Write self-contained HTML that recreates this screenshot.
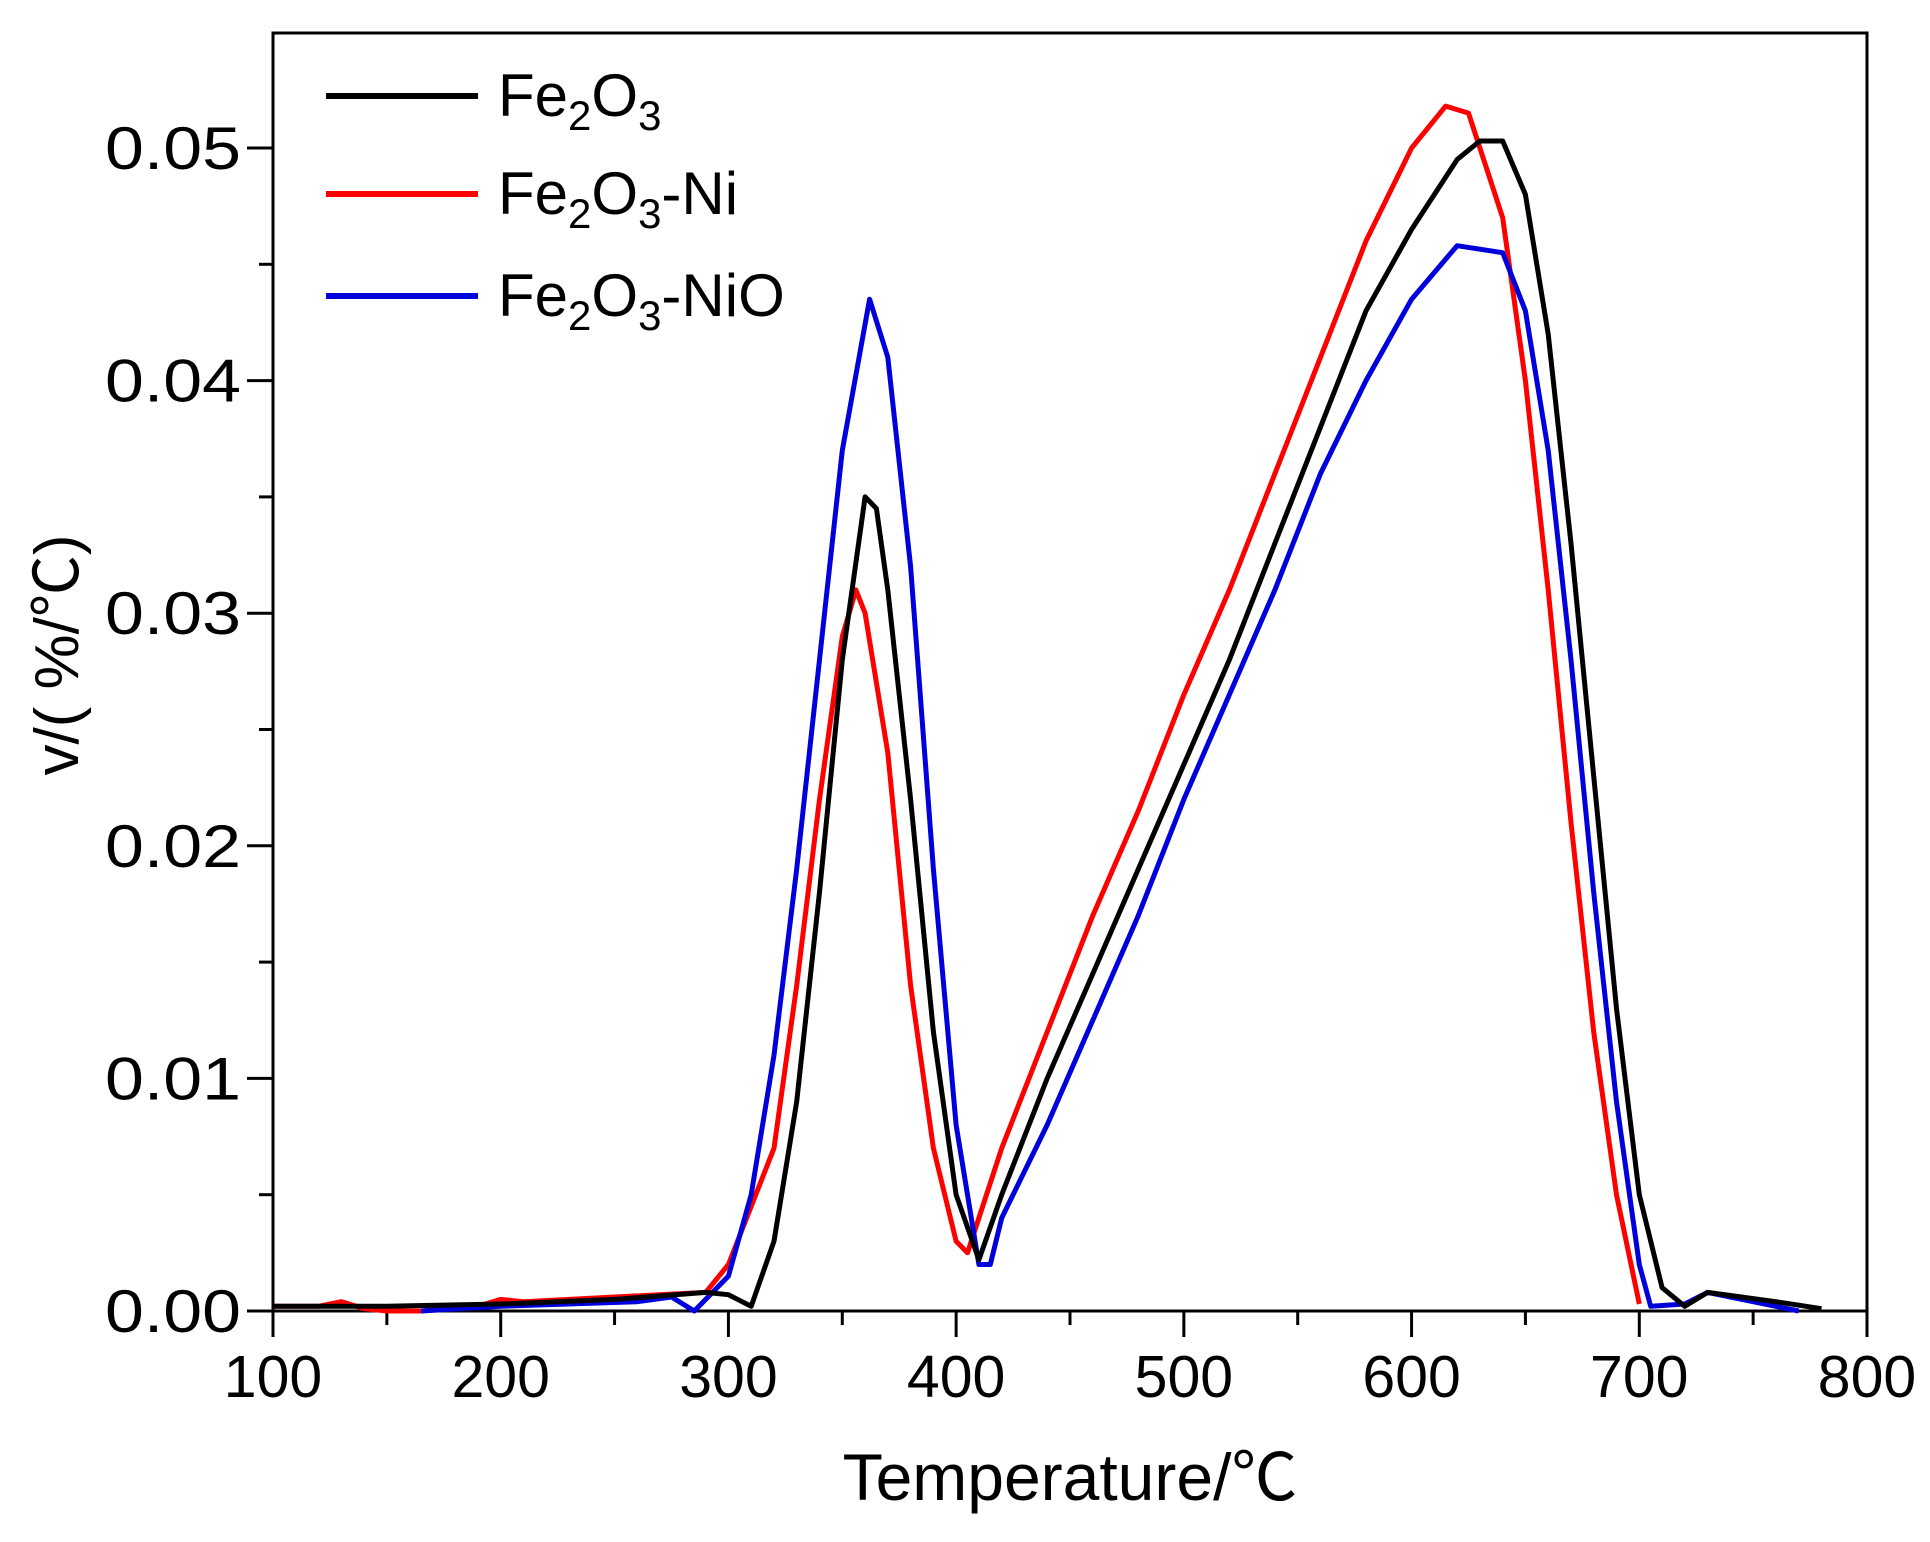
<!DOCTYPE html>
<html><head><meta charset="utf-8"><style>
html,body{margin:0;padding:0;background:#fff;}
svg{display:block;font-family:"Liberation Sans","Noto Sans CJK SC",sans-serif;}
</style></head><body>
<svg id="chart" width="1930" height="1542" viewBox="0 0 1930 1542" xmlns="http://www.w3.org/2000/svg">
<g id="axes"></g>
<g id="series"></g>
<g id="legend"></g>
</svg>
<script>
const xTicks=[100,200,300,400,500,600,700,800];
const yTicks=[0,0.01,0.02,0.03,0.04,0.05];
const yTickLabels=["0.00","0.01","0.02","0.03","0.04","0.05"];
const fe2o3T=[100,150,200,250,290,300,310,320,330,340,350,360,365,370,380,390,400,410,420,440,460,480,500,520,540,560,580,600,620,630,640,650,660,670,680,690,700,710,720,730,760,780];
const fe2o3V=[0.0002,0.0002,0.0003,0.0005,0.0008,0.0007,0.0002,0.003,0.009,0.018,0.028,0.035,0.0345,0.031,0.022,0.012,0.005,0.0022,0.005,0.010,0.0145,0.019,0.0235,0.028,0.033,0.038,0.043,0.0465,0.0495,0.0503,0.0503,0.048,0.042,0.033,0.023,0.013,0.005,0.001,0.0002,0.0008,0.0004,0.0001];
const niT=[100,120,130,140,150,165,190,200,210,250,290,300,320,330,340,350,356,360,370,380,390,400,405,420,440,460,480,500,520,540,560,580,600,615,625,640,650,660,670,680,690,700];
const niV=[0.0002,0.0002,0.0004,0.0001,0,0,0.0002,0.0005,0.0004,0.0006,0.0008,0.002,0.007,0.014,0.022,0.029,0.031,0.030,0.024,0.014,0.007,0.003,0.0025,0.007,0.012,0.017,0.0215,0.0265,0.031,0.036,0.041,0.046,0.050,0.0518,0.0515,0.047,0.040,0.031,0.021,0.012,0.005,0.0003];
const nioT=[165,200,260,275,285,300,310,320,330,340,350,362,370,380,390,400,410,415,420,440,460,480,500,520,540,560,580,600,620,640,650,660,670,680,690,700,705,720,730,770];
const nioV=[0,0.0002,0.0004,0.0006,0,0.0015,0.005,0.011,0.019,0.028,0.037,0.0435,0.041,0.032,0.019,0.008,0.002,0.002,0.004,0.008,0.0125,0.017,0.022,0.0265,0.031,0.036,0.040,0.0435,0.0458,0.0455,0.043,0.037,0.028,0.018,0.009,0.002,0.0002,0.0003,0.0008,0];

const NS="http://www.w3.org/2000/svg";
const X0=273,X1=1867,Y0=1311,Y5=148,YT=33;
const sx=v=>X0+(v-100)/700*(X1-X0);
const sy=v=>Y0-v/0.05*(Y0-Y5);
function mk(tag,attrs,parent,text){const e=document.createElementNS(NS,tag);for(const k in attrs)e.setAttribute(k,attrs[k]);if(text!==undefined)e.textContent=text;parent.appendChild(e);return e;}
const axes=document.getElementById('axes');
const frame=mk('rect',{x:X0,y:YT,width:X1-X0,height:Y0-YT,fill:'none',stroke:'#000','stroke-width':3},axes);


xTicks.forEach((t,i)=>{
  const x=sx(t);
  const l=mk('line',{x1:x,y1:Y0,x2:x,y2:Y0+26,stroke:'#000','stroke-width':3},axes);
  
  
  const tx=mk('text',{x:x,y:Y0+86,'font-size':59,'text-anchor':'middle',fill:'#000'},axes,String(t));
  
  
  if(i<xTicks.length-1){
    const m=sx(t+50);
    const ml=mk('line',{x1:m,y1:Y0,x2:m,y2:Y0+14,stroke:'#000','stroke-width':3},axes);
    
    
  }
});
yTicks.forEach((t,i)=>{
  const y=sy(t);
  const l=mk('line',{x1:X0-26,y1:y,x2:X0,y2:y,stroke:'#000','stroke-width':3},axes);
  
  
  const tx=mk('text',{x:X0-32,y:y+21,'font-size':60,'text-anchor':'end',fill:'#000','textLength':136,'lengthAdjust':'spacingAndGlyphs'},axes,yTickLabels[i]);
  
  
  const m=sy(t+0.005);
  if(m>YT){
    const ml=mk('line',{x1:X0-14,y1:m,x2:X0,y2:m,stroke:'#000','stroke-width':3},axes);
    
    
  }
});
const xt=mk('text',{x:1070,y:1500,'font-size':66,'text-anchor':'middle',fill:'#000'},axes,'Temperature/℃');


const yt=mk('text',{x:0,y:0,'font-size':62,'text-anchor':'middle',fill:'#000',transform:'translate(78,655) rotate(-90)'},axes,'v/( %/℃)');



const ser=document.getElementById('series');
function line(T,V,color,name){
  const d=T.map((t,i)=>(i?'L':'M')+sx(t).toFixed(1)+','+sy(V[i]).toFixed(1)).join(' ');
  const p=mk('path',{d:d,fill:'none',stroke:color,'stroke-width':5,'stroke-linejoin':'round'},ser);
  
  
}
line(niT,niV,'#ff0000','series-fe2o3-ni');
line(nioT,nioV,'#0000dd','series-fe2o3-nio');
line(fe2o3T,fe2o3V,'#000000','series-fe2o3');

const leg=document.getElementById('legend');
[['#000','legend-fe2o3','-',96],['#ff0000','legend-fe2o3-ni','-Ni',194],['#0000dd','legend-fe2o3-nio','-NiO',296]].forEach(([c,n,suf,y])=>{
  const g=mk('g',{},leg);
  
  
  mk('line',{x1:326,y1:y,x2:478,y2:y,stroke:c,'stroke-width':6},g);
  const t=mk('text',{x:498,y:y+20,'font-size':60,fill:'#000'},g);
  t.innerHTML='Fe<tspan font-size="42" dy="14">2</tspan><tspan dy="-14">O</tspan><tspan font-size="42" dy="14">3</tspan><tspan dy="-14">'+(suf==='-'?'':suf)+'</tspan>';
});
</script>
</body></html>
